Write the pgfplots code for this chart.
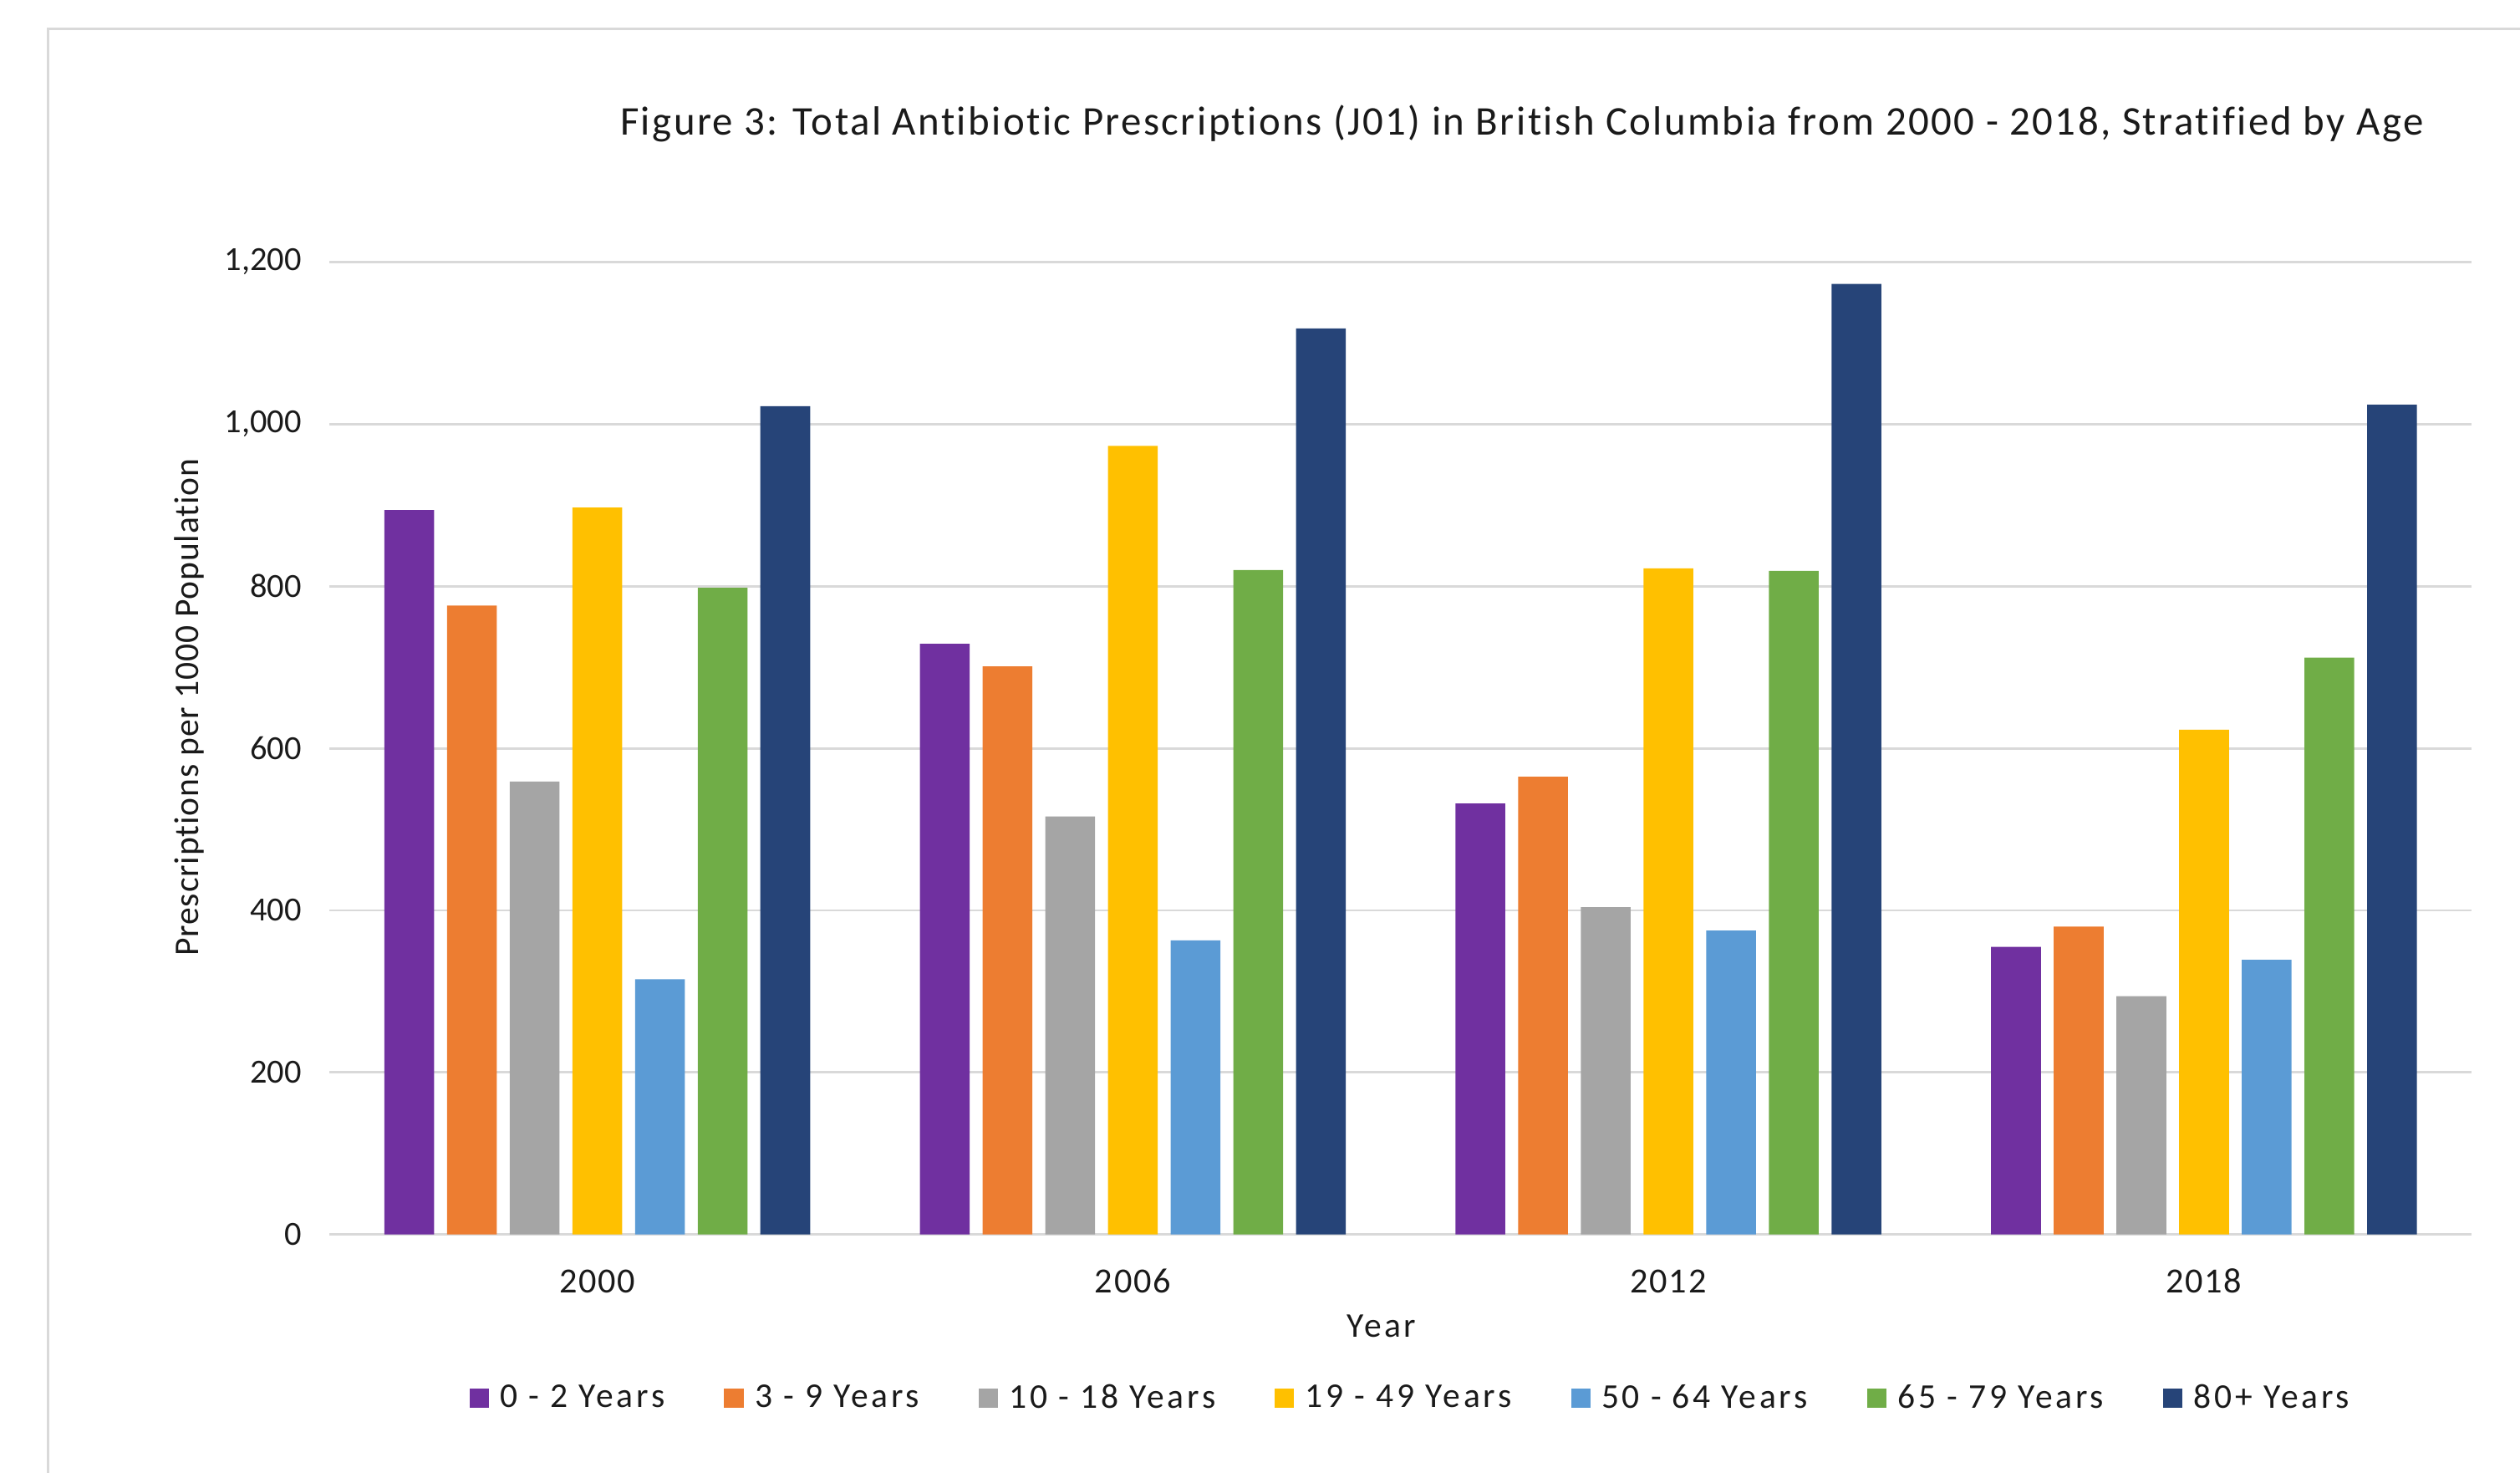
\documentclass[border=0pt]{standalone}
\usepackage{pgfplots}
\pgfplotsset{compat=1.18}
\usepackage{fontspec}
\setmainfont{Carlito}[Ligatures=NoCommon]
\definecolor{cPurple}{HTML}{7030A0}
\definecolor{cOrange}{HTML}{ED7D31}
\definecolor{cGray}{HTML}{A5A5A5}
\definecolor{cYellow}{HTML}{FFC000}
\definecolor{cBlue}{HTML}{5B9BD5}
\definecolor{cGreen}{HTML}{70AD47}
\definecolor{cNavy}{HTML}{264478}
\definecolor{gridgray}{HTML}{D9D9D9}
\definecolor{txt}{HTML}{1A1A1A}
\begin{document}
\begin{tikzpicture}
\useasboundingbox (-102.5pt,-74pt) rectangle (681.5pt,384pt);
\draw[gridgray, line width=0.8pt] (-87.5pt,-120pt) -- (-87.5pt,375pt) -- (720pt,375pt);
\begin{axis}[
  at={(0pt,0pt)}, anchor=south west,
  scale only axis, width=666.5pt, height=302.5pt,
  xmin=-0.5, xmax=3.5, ymin=0, ymax=1200,
  ybar=4pt, bar width=15.5pt,
  xtick=data, xticklabels={2000,2006,2012,2018},
  ytick={0,200,400,600,800,1000,1200},
  /pgf/number format/assume math mode=true,
  /pgf/number format/1000 sep={,},
  ymajorgrids, grid style={gridgray, line width=0.75pt},
  axis x line*=bottom, axis y line*=left,
  x axis line style={gridgray, line width=0.75pt, -},
  y axis line style={draw=none},
  major tick length=0pt, tick style={draw=none},
  tick label style={text=txt},
  yticklabel style={font=\fontsize{10.5}{12}\selectfont, anchor=east, inner sep=0pt, xshift=-8.5pt},
  xticklabel style={font=\fontsize{11}{12}\selectfont\addfontfeatures{LetterSpace=4}, anchor=center, yshift=-14.5pt},
  xlabel={Year},
  xlabel style={at={(axis description cs:0.491,-0.0942)}, anchor=center, font=\fontsize{10.8}{12}\selectfont\addfontfeatures{LetterSpace=8}, text=txt},
  ylabel={Prescriptions per 1000 Population},
  ylabel style={at={(axis description cs:-0.0653,0.542)}, anchor=center, font=\fontsize{10.8}{12}\selectfont\addfontfeatures{LetterSpace=2}, text=txt},
  legend columns=7,
  legend style={draw=none, fill=none, at={(axis description cs:0.5045,-0.1686)}, anchor=center,
    font=\fontsize{10.8}{12}\selectfont\addfontfeatures{LetterSpace=9}, text=txt,
    /tikz/every odd column/.append style={column sep=3pt},
    /tikz/every even column/.append style={column sep=18pt},
    nodes={inner sep=0.5pt}},
  legend image code/.code={\fill[#1] (0pt,-3pt) rectangle (6pt,3pt);},
]
\addplot[fill=cPurple, draw=none] coordinates {(0,894) (1,729) (2,532) (3,355)};
\addplot[fill=cOrange, draw=none] coordinates {(0,776) (1,701) (2,565) (3,380)};
\addplot[fill=cGray, draw=none] coordinates {(0,559) (1,516) (2,404) (3,294)};
\addplot[fill=cYellow, draw=none] coordinates {(0,897) (1,973) (2,822) (3,623)};
\addplot[fill=cBlue, draw=none] coordinates {(0,315) (1,363) (2,375) (3,339)};
\addplot[fill=cGreen, draw=none] coordinates {(0,798) (1,820) (2,819) (3,712)};
\addplot[fill=cNavy, draw=none] coordinates {(0,1022) (1,1118) (2,1173) (3,1024)};
\legend{0 - 2 Years, 3 - 9 Years, 10 - 18 Years, 19 - 49 Years, 50 - 64 Years, 65 - 79 Years, 80+ Years}
\end{axis}
\node[anchor=base, text=txt, font=\fontsize{12.7}{14}\selectfont\addfontfeatures{LetterSpace=5}] at (371pt,342pt) {Figure 3: Total Antibiotic Prescriptions (J01) in British Columbia from 2000 - 2018, Stratified by Age};
\end{tikzpicture}
\end{document}
